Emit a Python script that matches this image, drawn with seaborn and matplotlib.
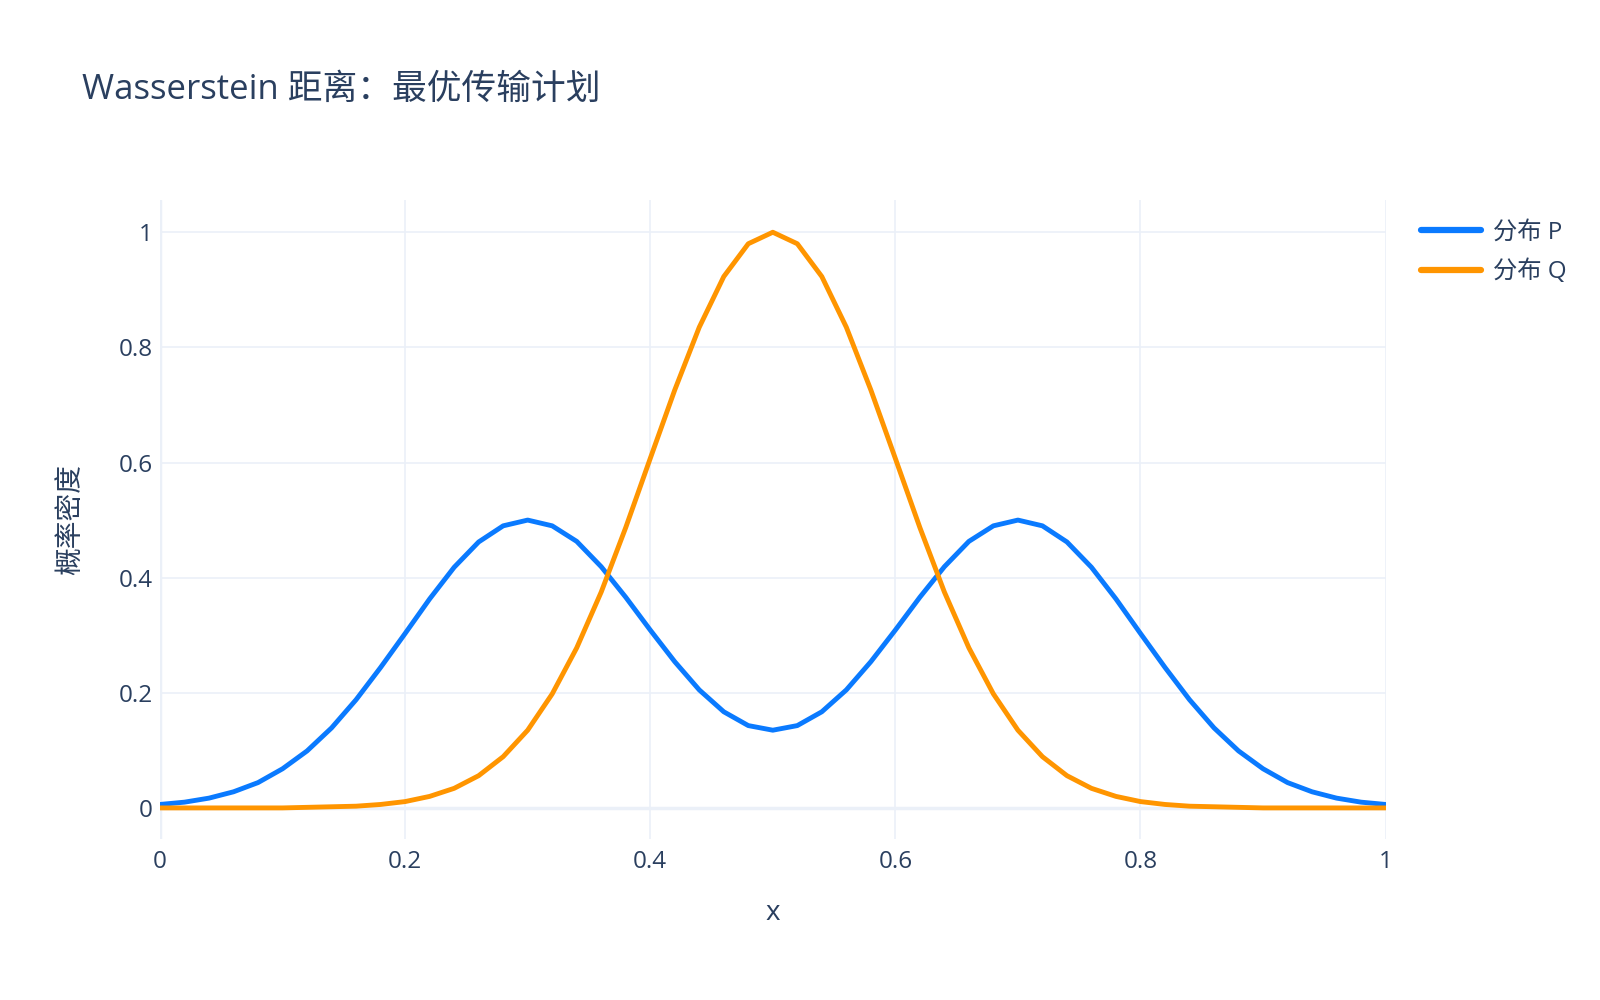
import matplotlib
matplotlib.use("Agg")
import matplotlib.pyplot as plt
import seaborn as sns
import pandas as pd

# values
x_vals = [0.00, 0.02, 0.04, 0.06, 0.08, 0.10, 0.12, 0.14, 0.16, 0.18,
          0.20, 0.22, 0.24, 0.26, 0.28, 0.30, 0.32, 0.34, 0.36, 0.38,
          0.40, 0.42, 0.44, 0.46, 0.48, 0.50, 0.52, 0.54, 0.56, 0.58,
          0.60, 0.62, 0.64, 0.66, 0.68, 0.70, 0.72, 0.74, 0.76, 0.78,
          0.80, 0.82, 0.84, 0.86, 0.88, 0.90, 0.92, 0.94, 0.96, 0.98, 1.00]

p_vals = [0.006, 0.010, 0.017, 0.028, 0.044, 0.068, 0.099, 0.139, 0.188, 0.244,
          0.303, 0.363, 0.418, 0.462, 0.490, 0.500, 0.490, 0.463, 0.419, 0.366,
          0.309, 0.254, 0.205, 0.167, 0.143, 0.135, 0.143, 0.167, 0.205, 0.254,
          0.309, 0.366, 0.419, 0.463, 0.490, 0.500, 0.490, 0.462, 0.418, 0.363,
          0.303, 0.244, 0.188, 0.139, 0.099, 0.068, 0.044, 0.028, 0.017, 0.010, 0.006]

q_vals = [0.000, 0.000, 0.000, 0.000, 0.000, 0.000, 0.001, 0.002, 0.003, 0.006,
          0.011, 0.020, 0.034, 0.056, 0.089, 0.135, 0.198, 0.278, 0.375, 0.487,
          0.607, 0.726, 0.835, 0.923, 0.980, 1.000, 0.980, 0.923, 0.835, 0.726,
          0.607, 0.487, 0.375, 0.278, 0.198, 0.135, 0.089, 0.056, 0.034, 0.020,
          0.011, 0.006, 0.003, 0.002, 0.001, 0.000, 0.000, 0.000, 0.000, 0.000, 0.000]

series_names = ['分布 P', '分布 Q']
series_colors = ['#0A7AFF', '#FF9500']

tick_vals = [0, 0.2, 0.4, 0.6, 0.8, 1]
tick_labels = ['0', '0.2', '0.4', '0.6', '0.8', '1']

title_text = 'Wasserstein 距离：最优传输计划'
x_label = 'x'
y_label = '概率密度'

TXT = '#2a3f5f'
GRID = '#EBF0F8'

sns.set_style('white')
plt.rcParams['font.family'] = ['Open Sans', 'Noto Sans CJK SC', 'DejaVu Sans']
plt.rcParams['axes.unicode_minus'] = False

df = pd.concat([
    pd.DataFrame({'x': x_vals, 'y': p_vals, 'series': series_names[0]}),
    pd.DataFrame({'x': x_vals, 'y': q_vals, 'series': series_names[1]}),
])

fig = plt.figure(figsize=(16, 10), dpi=100)
ax = fig.add_axes([0.1, 0.161, 0.766, 0.639])

sns.lineplot(data=df, x='x', y='y', hue='series', palette=series_colors,
             linewidth=3.5, ax=ax, legend=False, zorder=5)

ax.set_xlim(0, 1)
ax.set_ylim(-0.054, 1.056)
ax.set_xticks(tick_vals)
ax.set_xticklabels(tick_labels)
ax.set_yticks(tick_vals)
ax.set_yticklabels(tick_labels)
ax.tick_params(axis='both', length=0, labelsize=17.5, colors=TXT)
ax.tick_params(axis='x', pad=8)
ax.tick_params(axis='y', pad=5)

ax.grid(True, color=GRID, linewidth=1.2, zorder=0)
ax.axhline(0, color=GRID, linewidth=2.5, zorder=1)
ax.axvline(0, color=GRID, linewidth=2.5, zorder=1)
for s in ax.spines.values():
    s.set_visible(False)

ax.set_xlabel(x_label, fontsize=20, color=TXT, labelpad=18)
ax.set_ylabel(y_label, fontsize=20, color=TXT, labelpad=24)

fig.text(82 / 1600, 1 - 90 / 1000, title_text, fontsize=25, color=TXT,
         ha='left', va='center')

handles = [plt.Line2D([], [], color=c, linewidth=4.5) for c in series_colors]
fig.legend(handles, series_names, loc='upper left',
           bbox_to_anchor=(1421 / 1600, 1 - 221 / 1000), frameon=False,
           fontsize=17.5, labelcolor=TXT, handlelength=2.45, handletextpad=0.5,
           labelspacing=0.6, borderaxespad=0, borderpad=0)

fig.savefig('out.png', dpi=100, facecolor='white')
plt.close(fig)
